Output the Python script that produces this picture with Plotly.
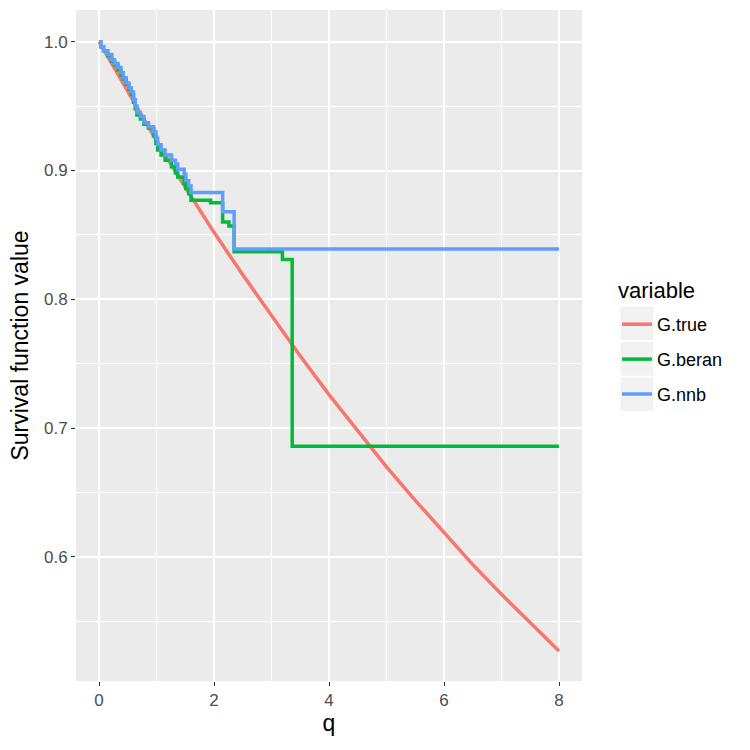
import plotly.graph_objects as go

# ---- data ----
q_true = [0.0, 0.5, 1.0, 1.5, 2.0, 2.5, 3.0, 3.5, 4.0, 4.5, 5.0, 5.5, 6.0, 6.5, 7.0, 7.5, 8.0]
G_true = [1.000, 0.961, 0.923, 0.887, 0.852, 0.819, 0.787, 0.756, 0.726, 0.698,
          0.670, 0.644, 0.619, 0.594, 0.571, 0.549, 0.527]

q_beran = [0.00, 0.03, 0.08, 0.15, 0.22, 0.27, 0.33, 0.38, 0.42, 0.47, 0.52, 0.56,
           0.60, 0.63, 0.66, 0.72, 0.78, 0.86, 0.95, 0.99, 1.02, 1.08, 1.15, 1.26,
           1.33, 1.37, 1.48, 1.51, 1.56, 1.60, 1.94, 2.15, 2.26, 2.35, 3.19, 3.36, 8.00]
G_beran = [1.000, 0.996, 0.993, 0.989, 0.985, 0.982, 0.978, 0.974, 0.971, 0.967, 0.963, 0.959,
           0.953, 0.948, 0.943, 0.940, 0.936, 0.933, 0.927, 0.921, 0.916, 0.912, 0.908, 0.903,
           0.898, 0.895, 0.890, 0.886, 0.882, 0.877, 0.875, 0.860, 0.857, 0.837, 0.831, 0.686, 0.686]

q_nnb = [0.00, 0.03, 0.08, 0.15, 0.22, 0.27, 0.33, 0.38, 0.42, 0.47, 0.52, 0.56,
         0.60, 0.63, 0.66, 0.72, 0.78, 0.86, 0.95, 0.99, 1.02, 1.08, 1.15, 1.26,
         1.33, 1.37, 1.48, 1.51, 1.56, 1.60, 2.15, 2.35, 8.00]
G_nnb = [1.000, 0.996, 0.993, 0.990, 0.986, 0.983, 0.980, 0.976, 0.972, 0.968, 0.964, 0.961,
         0.955, 0.950, 0.945, 0.942, 0.937, 0.934, 0.930, 0.925, 0.920, 0.916, 0.912, 0.908,
         0.905, 0.901, 0.897, 0.892, 0.888, 0.883, 0.868, 0.839, 0.839]

series_names = ["G.true", "G.beran", "G.nnb"]
series_colors = ["#F8766D", "#00BA38", "#619CFF"]
legend_title = "variable"

x_ticks = [0, 2, 4, 6, 8]
x_minor = [1, 3, 5, 7]
y_ticks = [0.6, 0.7, 0.8, 0.9, 1.0]
y_tick_text = ["0.6", "0.7", "0.8", "0.9", "1.0"]
y_minor = [0.55, 0.65, 0.75, 0.85, 0.95]

FONT = "Liberation Sans, Arial, sans-serif"
LW = 3.5
PL, PR, PT, PB = 75.5, 582, 10, 681  # panel edges in pixels
PW, PH = PR - PL, PB - PT

fig = go.Figure()
fig.add_trace(go.Scatter(x=q_true, y=G_true, mode="lines", name=series_names[0],
                         line=dict(color=series_colors[0], width=LW),
                         legendgroup="a"))
fig.add_trace(go.Scatter(x=q_beran, y=G_beran, mode="lines", name=series_names[1],
                         line=dict(color=series_colors[1], width=LW, shape="hv"),
                         legendgroup="b"))
fig.add_trace(go.Scatter(x=q_nnb, y=G_nnb, mode="lines", name=series_names[2],
                         line=dict(color=series_colors[2], width=LW, shape="hv"),
                         legendgroup="c"))

axis_common = dict(
    showline=False, zeroline=False,
    gridcolor="white", gridwidth=1.5,
    ticks="outside", ticklen=4, tickwidth=1.1, tickcolor="#333333",
    tickfont=dict(family=FONT, size=17, color="#4D4D4D"),
)

fig.update_xaxes(range=[-0.4, 8.4], tickmode="array", tickvals=x_ticks,
                 minor=dict(tickmode="array", tickvals=x_minor, showgrid=True,
                            gridcolor="white", gridwidth=0.7),
                 title=dict(text="q", font=dict(family=FONT, size=23, color="black"), standoff=4),
                 **axis_common)
fig.update_yaxes(range=[0.5037, 1.0246], tickmode="array", tickvals=y_ticks, ticktext=y_tick_text,
                 minor=dict(tickmode="array", tickvals=y_minor, showgrid=True,
                            gridcolor="white", gridwidth=0.7),
                 title=dict(text="Survival function value",
                            font=dict(family=FONT, size=23, color="black"), standoff=8),
                 **axis_common)

# legend key backgrounds (ggplot style)
key_tops = [306, 341.5, 377]
for t in key_tops:
    fig.add_shape(type="rect", xref="paper", yref="paper", layer="below",
                  x0=(620 - PL) / PW, x1=(654 - PL) / PW,
                  y0=(PB - (t + 34.5)) / PH, y1=(PB - t) / PH,
                  fillcolor="#F2F2F2", line=dict(color="white", width=1))

# legend title
fig.add_annotation(text=legend_title, xref="paper", yref="paper",
                   x=(616 - PL) / PW, y=(PB - 290) / PH, xanchor="left", yanchor="middle",
                   showarrow=False, font=dict(family=FONT, size=22, color="black"))

fig.update_layout(
    width=750, height=750,
    margin=dict(l=PL, r=750 - PR, t=PT, b=750 - PB, autoexpand=False),
    plot_bgcolor="#EBEBEB", paper_bgcolor="white",
    font=dict(family=FONT, color="black"),
    legend=dict(font=dict(family=FONT, size=18, color="black"),
                x=(617 - PL) / PW, xanchor="left",
                y=(PB - 306) / PH, yanchor="top",
                tracegroupgap=8.5, bgcolor="rgba(0,0,0,0)", itemwidth=30),
    showlegend=True,
)

fig.write_html("out.html")
